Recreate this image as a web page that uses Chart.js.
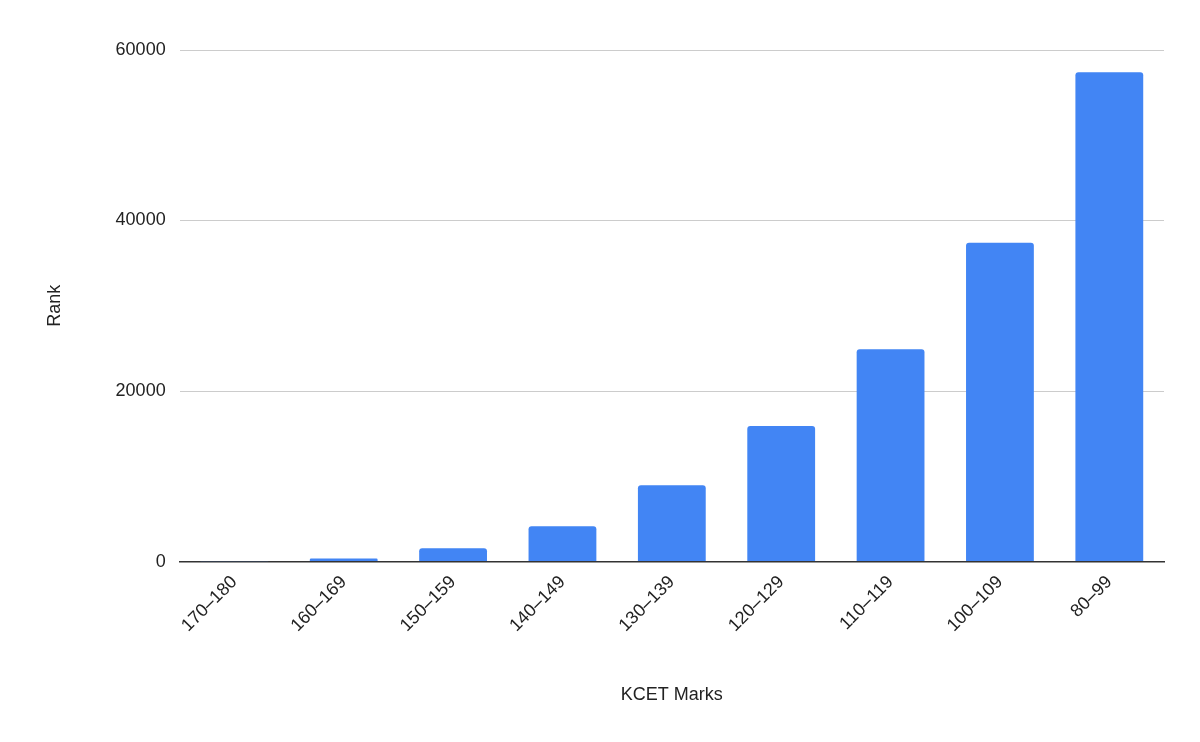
<!DOCTYPE html>
<html><head><meta charset="utf-8">
<script src="https://cdn.jsdelivr.net/npm/chart.js@4"></script>
<style>html,body{margin:0;background:#fff}#w{width:1200px;height:742px}</style>
</head><body><div id="w"><canvas id="c"></canvas></div>
<script>
const categories = ["170–180","160–169","150–159","140–149","130–139","120–129","110–119","100–109","80–99"];
const ranks = [30, 350, 1550, 4150, 8950, 15900, 24900, 37400, 57400];
const yTicks = [0, 20000, 40000, 60000];
new Chart(document.getElementById('c'), {
  type: 'bar',
  data: { labels: categories, datasets: [{ label: 'Rank', data: ranks, backgroundColor: '#4285f4', borderRadius: 3, barPercentage: 0.62, categoryPercentage: 1 }] },
  options: {
    responsive: true, maintainAspectRatio: false, animation: false,
    layout: { padding: { left: 40, right: 36, top: 50, bottom: 30 } },
    plugins: { legend: { display: false }, tooltip: { enabled: false } },
    scales: {
      x: { grid: { display: false, drawTicks: false }, border: { color: '#333', width: 1.5 },
           ticks: { maxRotation: 45, minRotation: 45, color: '#222', font: { family: 'Arial, Liberation Sans', size: 18 }, padding: 10 },
           title: { display: true, text: 'KCET Marks', color: '#222', font: { family: 'Arial, Liberation Sans', size: 18 }, padding: { top: 38, bottom: 6 } } },
      y: { min: 0, max: 60000, afterBuildTicks: a => { a.ticks = yTicks.map(v => ({ value: v })); },
           grid: { color: '#ccc', drawTicks: false }, border: { display: false },
           ticks: { color: '#222', font: { family: 'Arial, Liberation Sans', size: 18 }, padding: 14, callback: v => String(v) },
           title: { display: true, text: 'Rank', color: '#222', font: { family: 'Arial, Liberation Sans', size: 18 }, padding: { bottom: 36 } } }
    }
  }
});
</script></body></html>
